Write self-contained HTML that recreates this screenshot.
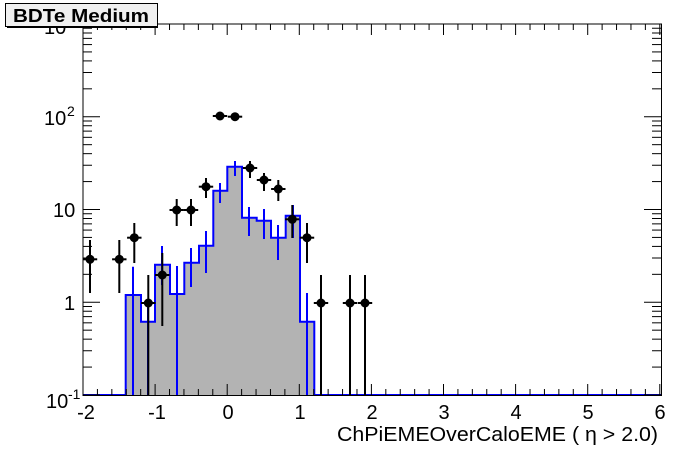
<!DOCTYPE html>
<html><head><style>body{margin:0;background:#fff}svg{display:block}text{font-family:"Liberation Sans",sans-serif}</style></head>
<body>
<svg id="s" width="696" height="472" xmlns="http://www.w3.org/2000/svg">
<rect x="0" y="0" width="696" height="472" fill="#fff"/>
<g id="hist"></g>
<rect x="83" y="24" width="578.5" height="371.5" fill="none" stroke="#000" stroke-width="1"/>
<g id="ticks" stroke="#000" stroke-width="1"></g>
<g id="pts"></g>
<g font-size="20" text-anchor="middle">
<text x="86" y="419">-2</text><text x="157" y="419">-1</text><text x="228" y="419">0</text><text x="300" y="419">1</text><text x="372" y="419">2</text><text x="444" y="419">3</text><text x="516" y="419">4</text><text x="588" y="419">5</text><text x="660" y="419">6</text>
</g>
<g font-size="20">
<text x="46" y="408">10</text><text x="68" y="399" font-size="14">-1</text>
<text x="64" y="310">1</text>
<text x="53" y="217">10</text>
<text x="44" y="125">10</text><text x="67" y="116" font-size="14">2</text>
<text x="44" y="34">10</text>
</g>
<text x="337" y="441" font-size="20" textLength="321" lengthAdjust="spacingAndGlyphs">ChPiEMEOverCaloEME (  η &gt; 2.0)</text>
<rect x="5.5" y="3.5" width="152" height="23" fill="#f0f0f0" stroke="#000"/>
<rect x="7" y="26" width="151" height="2" fill="#000"/>
<text x="81" y="22" font-size="18" font-weight="bold" text-anchor="middle" textLength="136" lengthAdjust="spacingAndGlyphs">BDTe Medium</text>
</svg>
<script>
const NS="http://www.w3.org/2000/svg";
function el(p,t,a){const e=document.createElementNS(NS,t);for(const k in a)e.setAttribute(k,a[k]);document.getElementById(p).appendChild(e);return e;}
const X=v=>83+(v+2)*72.1;
const edges=[125.7,141,155,170,184.3,199,213.3,227.3,242,256.7,271,285.7,300,314.3];
const h=[295,321.7,264.7,294,262.7,245.7,190.7,166.7,217.7,220.7,237.7,215.7,321.7];
let d="M83,395 L"+edges[0]+",395";
for(let i=0;i<h.length;i++){d+=` L${edges[i]},${h[i]} L${edges[i+1]},${h[i]}`;}
d+=` L${edges[13]},395`;
el("hist","path",{d:d+" Z",fill:"#b3b3b3",stroke:"none"});
el("hist","path",{d:d+" L661,395",fill:"none",stroke:"#0000ff","stroke-width":2});
const be=[[133,266.7,395],[148,305,395],[162,246,285],[177,266,395],[191,248,287],[206,231,273],[220,183,203],[235,161,176],[249,207,236],[264,209,239],[278,225,260],[293,205,238],[307,293,395]];
be.forEach(b=>el("hist","line",{x1:b[0],x2:b[0],y1:b[1],y2:b[2],stroke:"#0000ff","stroke-width":2}));
for(let v=-2;v<=6.001;v+=0.2){const x=X(v);const maj=Math.abs(v-Math.round(v))<0.01;const L=maj?11:6;
el("ticks","line",{x1:x,x2:x,y1:395,y2:395-L});el("ticks","line",{x1:x,x2:x,y1:24,y2:24+L});}
for(let dcd=-1;dcd<3;dcd++){for(let m=1;m<=9;m++){const y=395-(dcd+1)*92.75-Math.log10(m)*92.75;const L=m==1?17:9;
el("ticks","line",{x1:83,x2:83+L,y1:y,y2:y});el("ticks","line",{x1:661,x2:661-L,y1:y,y2:y});}}
el("ticks","line",{x1:83,x2:100,y1:24,y2:24});el("ticks","line",{x1:661,x2:644,y1:24,y2:24});
const p=[[90,259.3,240,293],[119.3,259.3,240,293],[134.3,237.7,223,263],[148.3,303,275,396],[162.3,275,253,326],[176.7,210,199,226],[191,210,199,226],[206,186.7,178,198],[220,116,113,119],[235,116.7,114,120],[250,168,161,178],[264,180,173,191],[278.3,189,180,201],[292.3,219.3,205,238],[307,237.7,223,263],[321,303,275,396],[350,303,275,396],[365,303,275,396]];
p.forEach(q=>{el("pts","line",{x1:q[0],x2:q[0],y1:q[2],y2:q[3],stroke:"#000","stroke-width":2});
el("pts","line",{x1:q[0]-7.2,x2:q[0]+7.2,y1:q[1],y2:q[1],stroke:"#000","stroke-width":2});
el("pts","circle",{cx:q[0],cy:q[1],r:4.5,fill:"#000"});});
</script>
</body></html>
